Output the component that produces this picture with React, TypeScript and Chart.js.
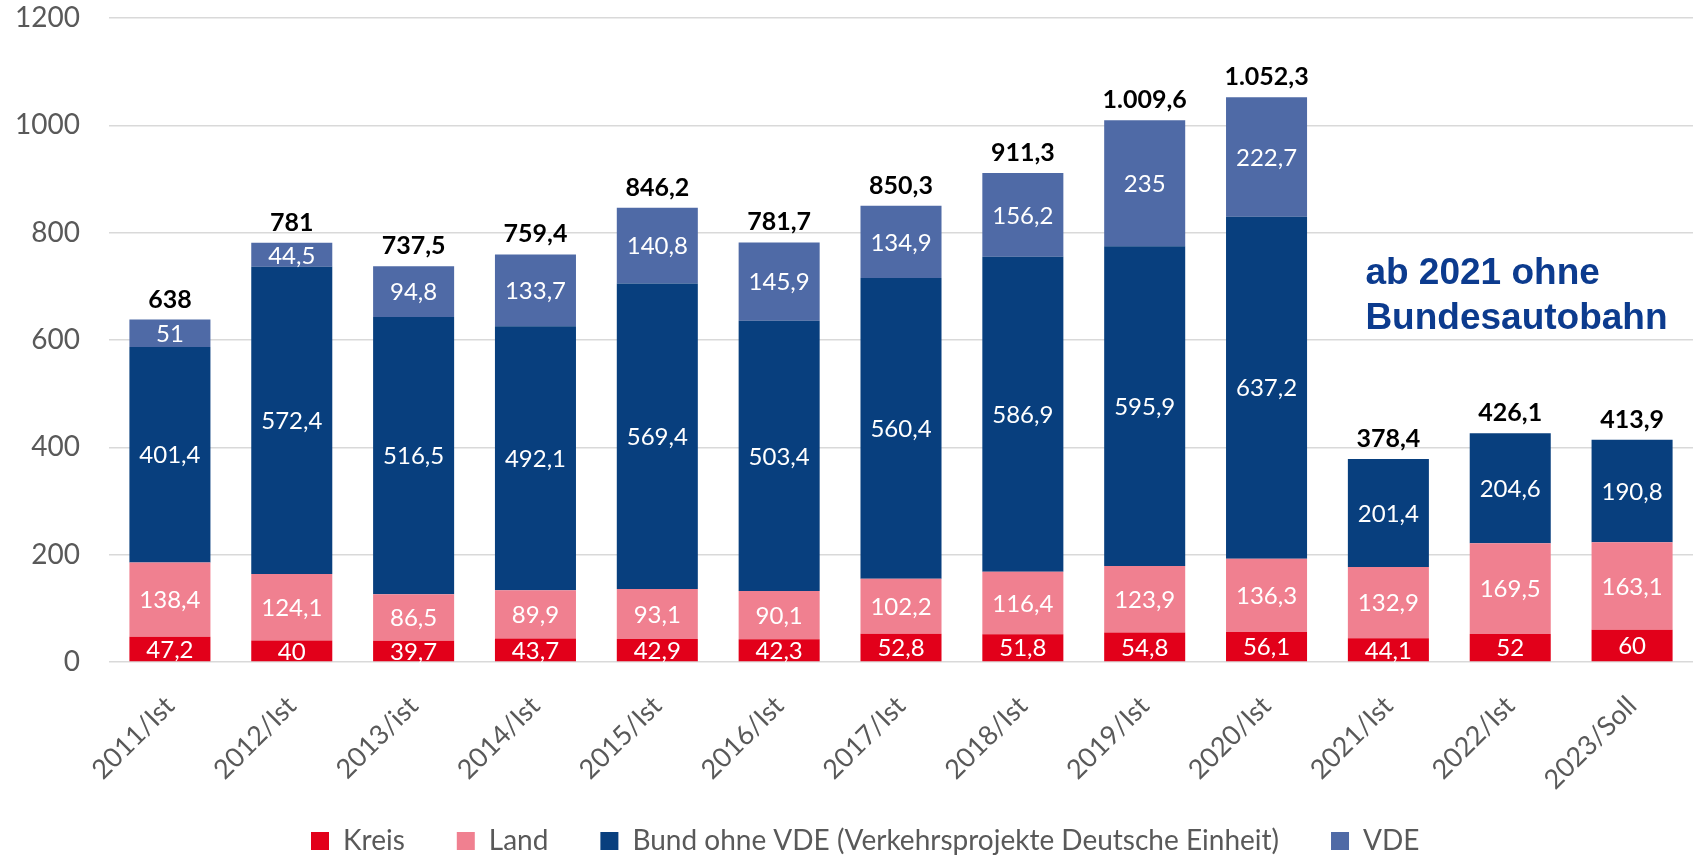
import React, { useEffect, useRef } from 'react';
import { Chart, registerables } from 'chart.js';

Chart.register(...registerables);

const categories = [
  '2011/Ist', '2012/Ist', '2013/ist', '2014/Ist', '2015/Ist', '2016/Ist', '2017/Ist',
  '2018/Ist', '2019/Ist', '2020/Ist', '2021/Ist', '2022/Ist', '2023/Soll',
];
const kreis = [47.2, 40, 39.7, 43.7, 42.9, 42.3, 52.8, 51.8, 54.8, 56.1, 44.1, 52, 60];
const land = [138.4, 124.1, 86.5, 89.9, 93.1, 90.1, 102.2, 116.4, 123.9, 136.3, 132.9, 169.5, 163.1];
const bund = [401.4, 572.4, 516.5, 492.1, 569.4, 503.4, 560.4, 586.9, 595.9, 637.2, 201.4, 204.6, 190.8];
const vde = [51, 44.5, 94.8, 133.7, 140.8, 145.9, 134.9, 156.2, 235, 222.7, null, null, null];
const yTicks = [0, 200, 400, 600, 800, 1000, 1200];
const seriesNames = ['Kreis', 'Land', 'Bund ohne VDE (Verkehrsprojekte Deutsche Einheit)', 'VDE'];
const seriesColors = ['#E2001A', '#F08090', '#083F7E', '#4F6AA6'];
const noteLines = ['ab 2021 ohne', 'Bundesautobahn'];

const LEGEND_START_X = 311;
const LEGEND_PADDING = 52;

function fmt(v: number): string {
  const r = Math.round(v * 10) / 10;
  const neg = r < 0;
  const abs = Math.abs(r);
  const intPart = Math.floor(abs);
  const dec = Math.round((abs - intPart) * 10);
  const intStr = String(intPart).replace(/\B(?=(\d{3})+(?!\d))/g, '.');
  return (neg ? '-' : '') + intStr + (dec ? ',' + dec : '');
}

const legendShiftPlugin = {
  id: 'legendShift',
  afterLayout(chart: any) {
    const lg = chart.legend;
    if (!lg || !lg.lineWidths) return;
    const lw = lg.lineWidths[0];
    const start = (lg.left + LEGEND_PADDING + lg.right - lw) / 2;
    const dx = LEGEND_START_X - start;
    lg.left += dx;
    lg.right += dx;
  },
};

const labelPlugin = {
  id: 'segLabels',
  afterDatasetsDraw(chart: any) {
    const ctx = chart.ctx;
    ctx.save();
    ctx.textAlign = 'center';
    ctx.textBaseline = 'middle';
    ctx.font = '24px Lato';
    ctx.fillStyle = '#ffffff';
    chart.data.datasets.forEach((ds: any, di: number) => {
      const meta = chart.getDatasetMeta(di);
      meta.data.forEach((el: any, i: number) => {
        const v = ds.data[i];
        if (v == null) return;
        const p = el.getProps(['x', 'y', 'base'], true);
        ctx.fillText(fmt(v), p.x, (p.y + p.base) / 2 + 1);
      });
    });
    ctx.font = 'bold 25px Lato';
    ctx.fillStyle = '#000000';
    ctx.textBaseline = 'alphabetic';
    categories.forEach((_c, i) => {
      let total = 0;
      let topY = Infinity;
      let x = 0;
      chart.data.datasets.forEach((ds: any, di: number) => {
        const v = ds.data[i];
        if (v == null) return;
        total += v;
        const el = chart.getDatasetMeta(di).data[i];
        const p = el.getProps(['x', 'y'], true);
        x = p.x;
        if (p.y < topY) topY = p.y;
      });
      ctx.fillText(fmt(total), x, topY - 12);
    });
    const xs = chart.scales.x;
    const ys = chart.scales.y;
    ctx.font = 'bold 37px "Liberation Sans", Arial, sans-serif';
    ctx.fillStyle = '#0C3B8E';
    ctx.textAlign = 'left';
    const nx = xs.getPixelForValue(10) - 23;
    ctx.fillText(noteLines[0], nx, ys.getPixelForValue(705));
    ctx.fillText(noteLines[1], nx, ys.getPixelForValue(620));
    ctx.restore();
  },
};

export default function App() {
  const ref = useRef<HTMLCanvasElement>(null);
  useEffect(() => {
    document.body.style.margin = '0';
    if (!ref.current) return;
    const dataArrays = [kreis, land, bund, vde];
    const chart = new Chart(ref.current, {
      type: 'bar',
      data: {
        labels: categories,
        datasets: dataArrays.map((d, i) => ({
          label: seriesNames[i],
          data: d as any,
          backgroundColor: seriesColors[i],
          borderWidth: 0,
          categoryPercentage: 1,
          barPercentage: 0.665,
        })),
      },
      options: {
        responsive: true,
        maintainAspectRatio: false,
        animation: false,
        layout: { padding: { left: 0, right: 2, top: 18, bottom: 0 } },
        plugins: {
          tooltip: { enabled: false },
          legend: {
            position: 'bottom',
            maxHeight: 84,
            labels: {
              font: { family: 'Lato', size: 28 },
              color: '#595959',
              boxWidth: 18,
              boxHeight: 18,
              padding: LEGEND_PADDING,
            },
          },
        },
        scales: {
          x: {
            stacked: true,
            grid: { display: false },
            border: { display: false },
            ticks: {
              font: { family: 'Lato', size: 27 },
              color: '#595959',
              maxRotation: 45,
              minRotation: 45,
              padding: 20,
            },
            afterFit: (s: any) => {
              s.height = 113;
              s.paddingLeft = 0;
              s.paddingRight = 0;
              s._computeLabelArea = () => undefined;
            },
          },
          y: {
            stacked: true,
            min: 0,
            max: 1200,
            afterBuildTicks: (s: any) => { s.ticks = yTicks.map((v) => ({ value: v })); },
            grid: { color: '#D9D9D9', lineWidth: 1.5, drawTicks: false },
            border: { display: false },
            ticks: {
              font: { family: 'Lato', size: 28 },
              color: '#595959',
              padding: 29,
              callback: (v: any) => String(v),
            },
            afterFit: (s: any) => {
              s.width = 109;
              s.paddingTop = 0;
              s.paddingBottom = 0;
            },
          },
        },
      },
      plugins: [labelPlugin, legendShiftPlugin],
    } as any);
    return () => chart.destroy();
  }, []);
  return (
    <div style={{ width: 1695, height: 859, position: 'relative' }}>
      <canvas ref={ref} />
    </div>
  );
}
